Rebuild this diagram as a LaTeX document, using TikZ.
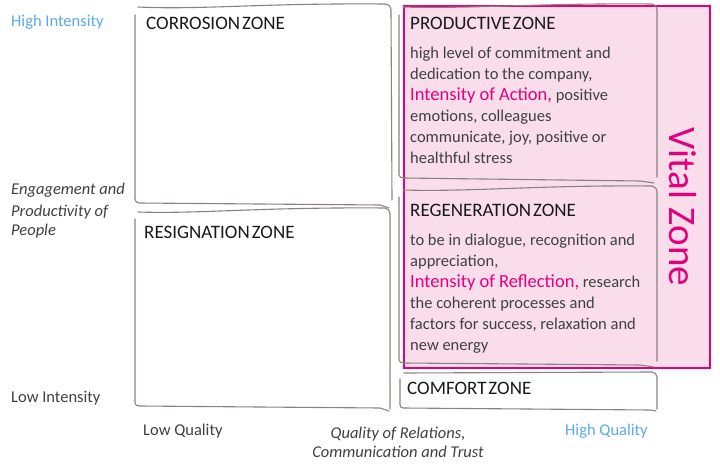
\documentclass[tikz,border=0pt]{standalone}
\usepackage{fontspec}
\setmainfont{Carlito}
\definecolor{magentaV}{HTML}{E4007C}
\definecolor{pinkfill}{HTML}{F9DDEB}
\definecolor{skyblue}{HTML}{5AAAE6}
\definecolor{pengray}{HTML}{8A8180}
\definecolor{bodygray}{HTML}{404040}
\newcommand\myheadfont{\fontsize{19}{21}\selectfont\spaceskip 2pt\relax}
\begin{document}
\begin{tikzpicture}[x=1pt,y=-1pt,
  hand/.style={draw=pengray, line width=1.1pt, line cap=round, line join=round},
  vital/.style={fill=pinkfill, draw=magentaV, line width=1.1pt},
  small/.style={inner sep=0pt, anchor=base west, font=\fontsize{16.5}{20.5}\selectfont, text=bodygray},
  heading/.style={inner sep=0pt, anchor=base west, font=\myheadfont, text=black!90},
  body/.style={inner sep=0pt, anchor=base west, align=left, font=\fontsize{16.5}{21}\selectfont, text=bodygray},
  accent/.style={text=magentaV}
]
\useasboundingbox (0,0) rectangle (720,473);

% vital zone background
\draw[vital] (404,6) rectangle (710,368);

% corrosion box
\draw[hand] (138,7) .. controls (200,10) and (260,3) .. (385,4) to[out=0,in=90] (391,10) -- (392,200);
\draw[hand] (135,15) -- (135,199) to[out=-90,in=180] (139,203) -- (380,205) -- (389,208);
% resignation box
\draw[hand] (138,212) .. controls (200,214) and (260,207) .. (385,208) to[out=0,in=90] (390,214) -- (390,409);
\draw[hand] (135,219) -- (135,403) to[out=-90,in=180] (139,406) -- (380,408) -- (389,411);
% productive box
\draw[hand] (403,7) .. controls (470,9) and (540,3) .. (651,4) to[out=0,in=90] (657,10) -- (657,177);
\draw[hand] (399,15) -- (399,175) to[out=-90,in=180] (404,178) -- (640,181) -- (654,183);
% regeneration box
\draw[hand] (403,190) .. controls (470,192) and (540,185) .. (651,186) to[out=0,in=90] (657,192) -- (657,361);
\draw[hand] (399,197) -- (399,360) to[out=-90,in=180] (404,363) -- (640,365) -- (654,367);
% comfort box
\draw[hand] (404,373) -- (652,372) to[out=0,in=90] (657,377) -- (657,409);
\draw[hand] (400,379) -- (400,405) to[out=-90,in=180] (403,408) -- (650,410) -- (656,411);

% axis labels
\node[small, text=skyblue] (hiint) at (11,27) {High Intensity};
\node[small, font=\fontsize{16.5}{20.5}\selectfont\itshape] (engage) at (11,195) {Engagement and};
\node[small, font=\fontsize{16.5}{20.5}\selectfont\itshape] (prod) at (11,216) {Productivity of};
\node[small, font=\fontsize{16.5}{20.5}\selectfont\itshape] (people) at (11,236) {People};
\node[small] (loint) at (11,402) {Low Intensity};
\node[small] (loq) at (143,435) {Low Quality};
\node[small, text=skyblue] (hiq) at (565,435) {High Quality};
\node[small, anchor=base, font=\fontsize{16.5}{20.5}\selectfont\itshape] (qual1) at (398,438) {Quality of Relations,};
\node[small, anchor=base, font=\fontsize{16.5}{20.5}\selectfont\itshape] (qual2) at (398,457) {Communication and Trust};

% zone headings
\node[heading] (corr) at (146,30) {CORROSION ZONE};
\node[heading] (resig) at (144,239) {RESIGNATION ZONE};
\node[heading] (prodz) at (410,30) {PRODUCTIVE ZONE};
\node[heading] (regen) at (410,217) {REGENERATION ZONE};
\node[heading] (comf) at (407,394) {COMFORT ZONE};

% bodies (base anchor = baseline of last line)
\node[body] (prodtext) at (410,164) {high level of commitment and\\
dedication to the company,\\
{\color{magentaV}\fontsize{18.5}{21}\selectfont Intensity of Action,} positive\\
emotions, colleagues\\
communicate, joy, positive or\\
healthful stress};
\node[body] (regentext) at (410,350) {to be in dialogue, recognition and\\
appreciation,\\
{\color{magentaV}\fontsize{18.5}{21}\selectfont Intensity of Reflection,} research\\
the coherent processes and\\
factors for success, relaxation and\\
new energy};

\node[rotate=-90, inner sep=0pt, text=magentaV, font=\fontsize{39}{42}\selectfont] (vitalz) at (683,207) {Vital Zone};
\end{tikzpicture}
\end{document}
